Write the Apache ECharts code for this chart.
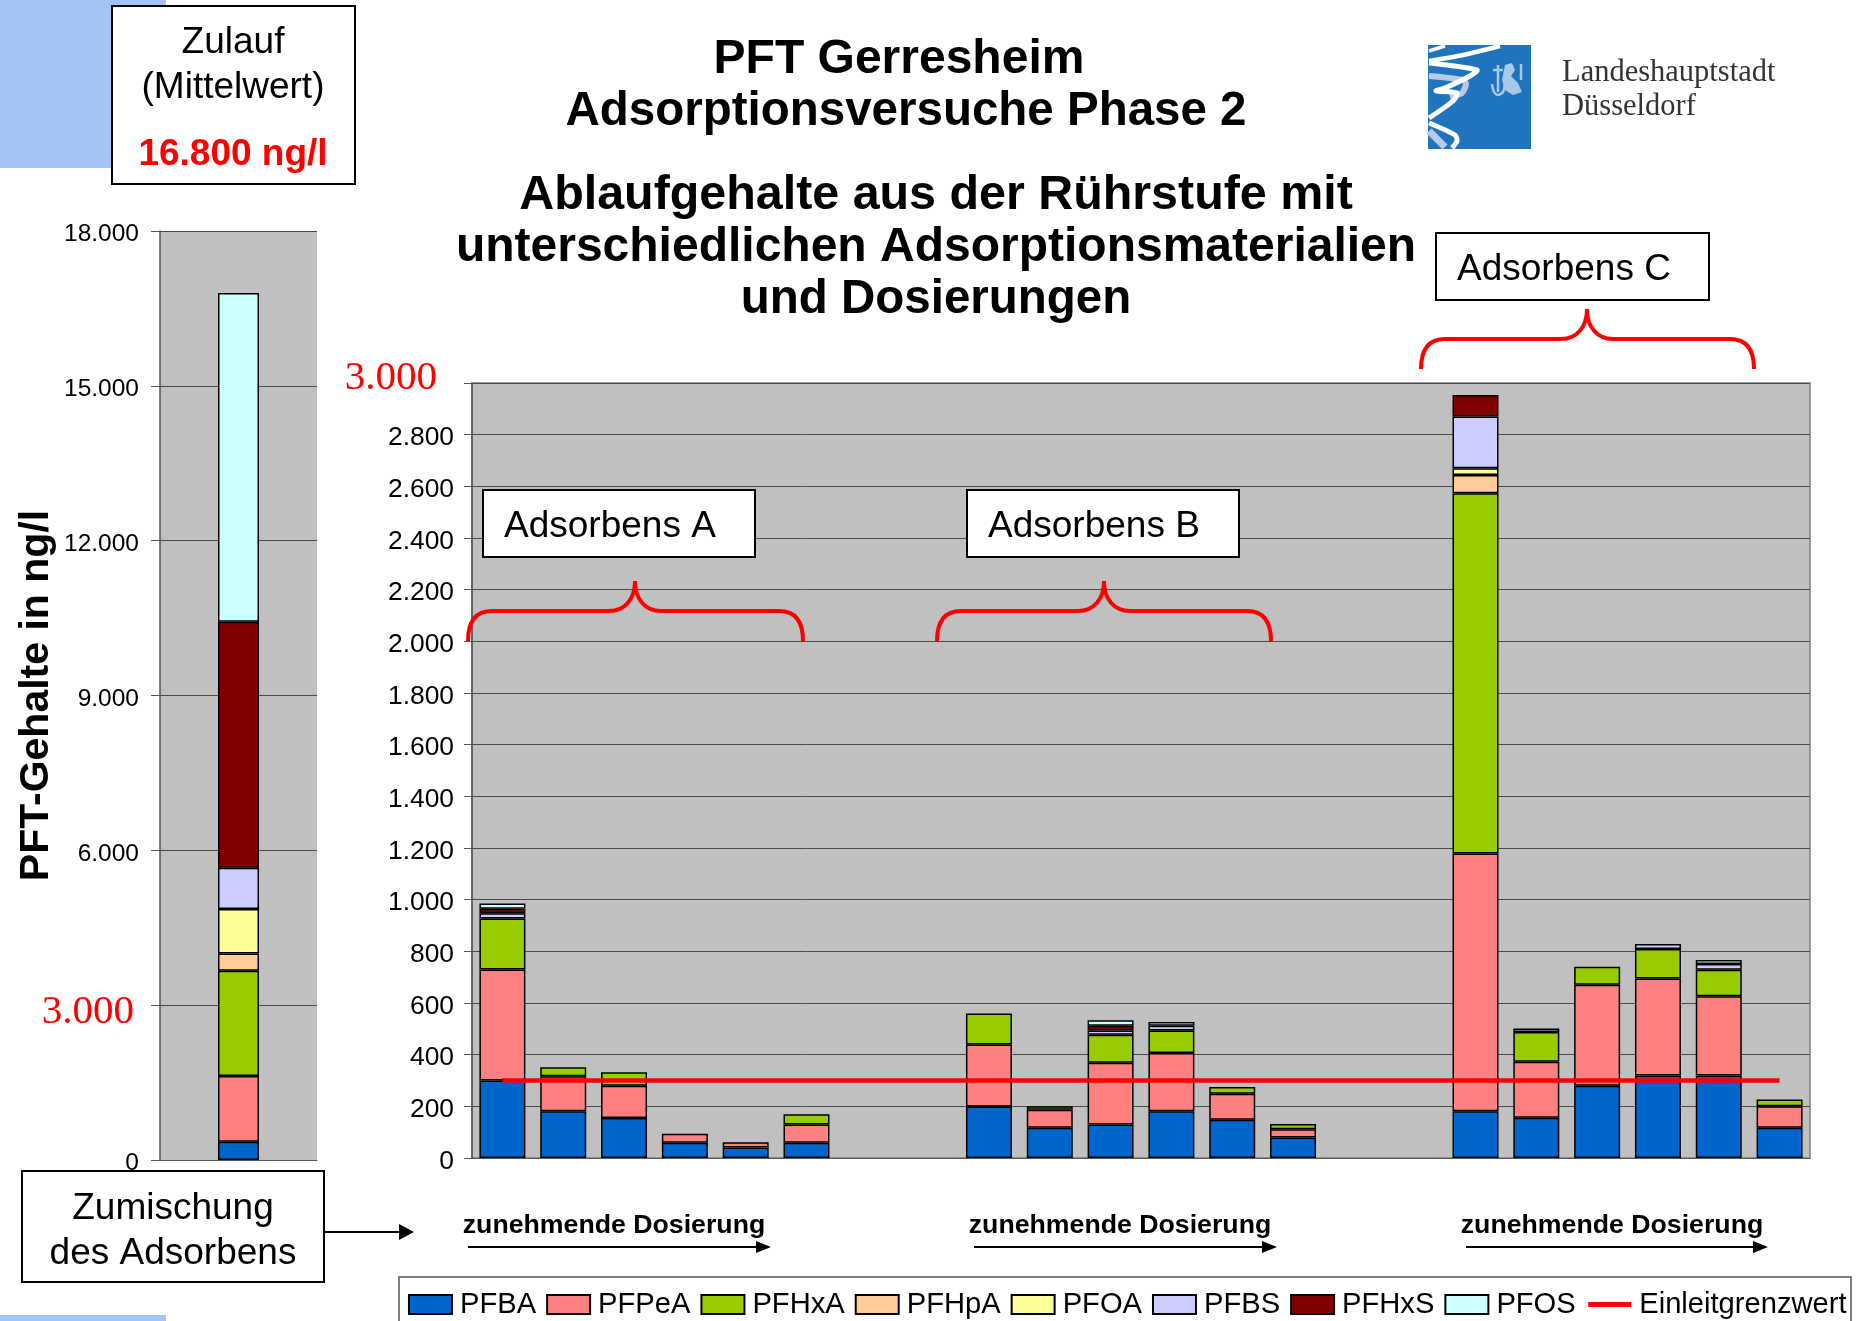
<!DOCTYPE html>
<html>
<head>
<meta charset="utf-8">
<title>PFT Gerresheim</title>
<script src="https://cdn.jsdelivr.net/npm/echarts@6/dist/echarts.min.js"></script>
<style>
  html, body { margin: 0; padding: 0; background: #fff; }
  #chart { width: 1865px; height: 1321px; }
</style>
</head>
<body>
<div id="chart"></div>
<script>
// Hauptdiagramm: 3 x 6 Versuche, getrennt durch je zwei leere Kategorien
const versuche = ['A1','A2','A3','A4','A5','A6','','','B1','B2','B3','B4','B5','B6','','','C1','C2','C3','C4','C5','C6'];
const pfba   = [300,181,155,59,41,59,null,null,199,117,130,181,148,79,null,null,181,156,280,319,319,117];
const pfpea  = [430,135,125,35,20,71,null,null,240,70,239,225,101,32,null,null,998,217,391,376,307,83];
const pfhxa  = [197,35,52,null,null,39,null,null,120,13,108,88,26,21,null,null,1394,115,69,114,103,26];
const pfhpa  = [null,null,null,null,null,null,null,null,null,null,null,null,null,null,null,null,71,null,null,null,null,null];
const pfoa   = [null,null,null,null,null,null,null,null,null,null,null,null,null,null,null,null,26,null,null,null,null,null];
const pfbs   = [20,null,null,null,null,null,null,null,null,null,17,18,null,null,null,null,200,13,null,19,22,null];
const pfhxs  = [18,null,null,null,null,null,null,null,null,null,18,null,null,null,null,null,84,null,null,null,null,null];
const pfos   = [20,null,null,null,null,null,null,null,null,null,21,14,null,null,null,null,null,null,null,null,15,null];
const grenzwert = [300,300,300,300,300,300,300,300,300,300,300,300,300,300,300,300,300,300,300,300,300,300];

// Zulauf (linkes Diagramm), gleiche Reihenfolge wie stoffe
const zulaufKat = ['', 'Zulauf', ''];
const zulauf = [355,1272,2040,336,858,801,4765,6373];

const stoffe = ['PFBA','PFPeA','PFHxA','PFHpA','PFOA','PFBS','PFHxS','PFOS'];
const farben = ['#0066cc','#ff8080','#99cc00','#ffcc99','#ffff99','#ccccff','#800000','#ccffff'];
const reihen = [pfba,pfpea,pfhxa,pfhpa,pfoa,pfbs,pfhxs,pfos];

const fmt = v => String(v).replace(/\B(?=(\d{3})+$)/g, '.');
const ARIAL = '"Liberation Sans", Arial, sans-serif';
const SERIF = '"Liberation Serif", serif';

const chart = echarts.init(document.getElementById('chart'));

const yAxisCommon = {
  type: 'value',
  min: 0,
  axisLine: { show: true, lineStyle: { color: '#555', width: 1.5 } },
  axisTick: { show: true, length: 9, lineStyle: { color: '#555' } },
  splitLine: { show: true, lineStyle: { color: '#4a4a4a', width: 1 } }
};

const series = [];
stoffe.forEach((name, i) => {
  series.push({
    name, type: 'bar', stack: 'zulauf', xAxisIndex: 0, yAxisIndex: 0, barWidth: 41,
    data: [null, zulauf[i], null],
    itemStyle: { color: farben[i], borderColor: '#000', borderWidth: 1.5 },
    silent: true
  });
  series.push({
    name, type: 'bar', stack: 'versuch', xAxisIndex: 1, yAxisIndex: 1, barWidth: 46,
    data: reihen[i],
    itemStyle: { color: farben[i], borderColor: '#000', borderWidth: 1.5 },
    silent: true
  });
});
series.push({
  name: 'Einleitgrenzwert', type: 'line', xAxisIndex: 1, yAxisIndex: 1,
  data: grenzwert, symbol: 'none', z: 5,
  lineStyle: { color: '#ff0000', width: 4.5 },
  itemStyle: { color: '#ff0000' }
});

// Text und Kaesten aus der Folie
const txt = (x, y, text, fontSize, extra) => ({
  type: 'text', x, y: y + 3, z: 20,
  style: Object.assign({ text, font: fontSize + 'px ' + ARIAL, fill: '#000', align: 'center', verticalAlign: 'middle' }, extra || {})
});
const box = (x, y, w, h, lw) => ({
  type: 'rect', z: 15, shape: { x, y, width: w, height: h },
  style: { fill: '#fff', stroke: '#000', lineWidth: lw || 2 }
});
const curve = (x1, y1, cpx1, cpy1, cpx2, cpy2, x2, y2) => ({
  type: 'bezierCurve', z: 15, shape: { x1, y1, cpx1, cpy1, cpx2, cpy2, x2, y2 },
  style: { fill: 'none', stroke: '#ff0000', lineWidth: 4 }
});
const gerade = (x1, y1, x2, y2) => ({
  type: 'line', z: 15, shape: { x1, y1, x2, y2 }, style: { stroke: '#ff0000', lineWidth: 4 }
});
const klammer = (l, r, p, y0) => {
  const f = y0 - 30, t = y0 - 60;
  return [
    curve(l, y0, l, f + 10, l + 8, f, l + 24, f),
    gerade(l + 24, f, p - 26, f),
    curve(p - 26, f, p - 10, f, p, f - 12, p, t),
    curve(p, t, p, f - 12, p + 10, f, p + 26, f),
    gerade(p + 26, f, r - 24, f),
    curve(r - 24, f, r - 8, f, r, f + 10, r, y0)
  ];
};
const pfeil = (x1, x2, y, hl, hw) => ([
  { type: 'line', z: 15, shape: { x1, y1: y, x2: x2 - hl, y2: y }, style: { stroke: '#000', lineWidth: 1.8 } },
  { type: 'polygon', z: 15, shape: { points: [[x2 - hl, y - hw], [x2, y], [x2 - hl, y + hw]] }, style: { fill: '#000' } }
]);
const titel = (x, y, text, size) => txt(x, y, text, size, { font: 'bold ' + size + 'px ' + ARIAL });
const band = (points, stroke, lineWidth) => ({
  type: 'polyline', z: 12, shape: { points, smooth: 0.25 },
  style: { fill: 'none', stroke, lineWidth }
});

const graphicEls = [
  { type: 'rect', z: 0, shape: { x: 0, y: 0, width: 166, height: 168 }, style: { fill: '#a4c2f4' } },
  { type: 'rect', z: 0, shape: { x: 0, y: 1315, width: 166, height: 6 }, style: { fill: '#a4c2f4' } },

  box(112, 6, 243, 178),
  txt(233, 40, 'Zulauf', 37),
  txt(233, 85, '(Mittelwert)', 37),
  txt(233, 152, '16.800 ng/l', 37, { font: 'bold 37px ' + ARIAL, fill: '#ff0000' }),

  titel(899, 57, 'PFT Gerresheim', 48),
  titel(906, 109, 'Adsorptionsversuche Phase 2', 47.5),
  titel(936, 193, 'Ablaufgehalte aus der Rührstufe mit', 48.4),
  titel(936, 245, 'unterschiedlichen Adsorptionsmaterialien', 48),
  titel(936, 297, 'und Dosierungen', 47.5),

  // Logo
  { type: 'rect', z: 10, shape: { x: 1428, y: 45, width: 103, height: 104 }, style: { fill: '#1f74bd' } },
  band([[1429,76],[1463,80],[1466,84],[1462,93],[1450,97]], '#b8cbe6', 6),
  band([[1429,131],[1445,147]], '#b8cbe6', 7),
  band([[1500,46],[1463,55],[1429,61]], '#fff', 4.5),
  band([[1429,51],[1445,46]], '#fff', 3.5),
  band([[1429,63],[1477,70],[1470,76],[1445,88],[1436,91],[1457,93],[1453,101],[1429,118]], '#fff', 5),
  band([[1429,123],[1455,135],[1457,141],[1452,148]], '#fff', 5),
  { type: 'polygon', z: 11, shape: { points: [[1505,65],[1512,63],[1515,70],[1511,76],[1518,83],[1522,92],[1513,95],[1505,90],[1502,80]] }, style: { fill: '#a9c9e8' } },
  band([[1498,65],[1498,92]], '#a9c9e8', 2.5),
  band([[1493,70],[1503,70]], '#a9c9e8', 2.5),
  band([[1492,84],[1494,92],[1498,95],[1503,92],[1505,84]], '#a9c9e8', 2.5),
  band([[1521,64],[1521,80]], '#a9c9e8', 2.5),
  txt(1562, 70, 'Landeshauptstadt', 30.5, { font: '30.5px ' + SERIF, fill: '#333', align: 'left' }),
  txt(1562, 104, 'Düsseldorf', 30.5, { font: '30.5px ' + SERIF, fill: '#333', align: 'left' }),

  // Adsorbens-Kaesten und Klammern
  box(483, 490, 272, 67), txt(504, 524, 'Adsorbens A', 37, { align: 'left' }),
  box(967, 490, 272, 67), txt(988, 524, 'Adsorbens B', 37, { align: 'left' }),
  box(1436, 233, 273, 67), txt(1457, 267, 'Adsorbens C', 37, { align: 'left' }),
  ...klammer(468, 803, 635, 641),
  ...klammer(937, 1271, 1104, 641),
  ...klammer(1421, 1754, 1587, 369),

  // Zumischung
  box(22, 1171, 302, 111),
  txt(173, 1206, 'Zumischung', 37),
  txt(173, 1251, 'des Adsorbens', 37),
  ...pfeil(324, 414, 1232, 15, 8),

  txt(614, 1223, 'zunehmende Dosierung', 26.7, { font: 'bold 26.7px ' + ARIAL }),
  txt(1120, 1223, 'zunehmende Dosierung', 26.7, { font: 'bold 26.7px ' + ARIAL }),
  txt(1612, 1223, 'zunehmende Dosierung', 26.7, { font: 'bold 26.7px ' + ARIAL }),
  ...pfeil(468, 771, 1247, 15, 6),
  ...pfeil(974, 1277, 1247, 15, 6),
  ...pfeil(1466, 1768, 1247, 15, 6),

  // Legendenrahmen, unten abgeschnitten
  { type: 'rect', z: 1, shape: { x: 399, y: 1277, width: 1452, height: 60 }, style: { fill: '#fff', stroke: '#555', lineWidth: 1.5 } }
];

const option = {
  animation: false,
  backgroundColor: '#fff',
  textStyle: { fontFamily: ARIAL },
  grid: [
    { left: 160, top: 231, width: 157, height: 929, show: true, backgroundColor: '#c0c0c0', borderWidth: 0, outerBoundsMode: 'none' },
    { left: 472, top: 383, width: 1338, height: 775, show: true, backgroundColor: '#c0c0c0', borderColor: '#808080', borderWidth: 1.5, outerBoundsMode: 'none' }
  ],
  xAxis: [
    {
      type: 'category', gridIndex: 0, data: zulaufKat,
      axisLine: { lineStyle: { color: '#555' } },
      axisTick: { length: 8, lineStyle: { color: '#555' } },
      axisLabel: { show: false }
    },
    {
      type: 'category', gridIndex: 1, data: versuche,
      axisLine: { lineStyle: { color: '#555' } },
      axisTick: { length: 8, interval: 0, lineStyle: { color: '#555' } },
      axisLabel: { show: false }
    }
  ],
  yAxis: [
    Object.assign({}, yAxisCommon, {
      gridIndex: 0, max: 18000, interval: 3000,
      name: 'PFT-Gehalte in ng/l', nameLocation: 'middle', nameRotate: 90, nameGap: 103, nameMoveOverlap: false,
      nameTextStyle: { color: '#000', fontSize: 41, fontWeight: 'bold', fontFamily: ARIAL },
      axisLabel: {
        color: '#000', fontSize: 24.5, margin: 21, fontFamily: ARIAL, padding: [7, 0, 0, 0],
        formatter: v => v === 3000 ? '{rot|' + fmt(v) + '}' : fmt(v),
        rich: { rot: { color: '#ff0000', fontSize: 41, fontFamily: SERIF, padding: [8, 5, 0, 0] } }
      }
    }),
    Object.assign({}, yAxisCommon, {
      gridIndex: 1, max: 3000, interval: 200,
      axisTick: { show: true, length: 8, lineStyle: { color: '#555' } },
      axisLabel: {
        color: '#000', fontSize: 26.4, margin: 18, fontFamily: ARIAL, padding: [7, 0, 0, 0],
        formatter: v => v === 3000 ? '{rot|' + fmt(v) + '}' : fmt(v),
        rich: { rot: { color: '#ff0000', fontSize: 41, fontFamily: SERIF, padding: [0, 17, 16, 0] } }
      }
    })
  ],
  legend: {
    left: 403, top: 1285, padding: 5,
    itemWidth: 43, itemHeight: 19, itemGap: 10,
    data: stoffe.map(name => ({ name, icon: 'rect' })).concat([{
      name: 'Einleitgrenzwert',
      itemStyle: { opacity: 0 },
      lineStyle: { color: '#ff0000', width: 5 }
    }]),
    textStyle: { color: '#000', fontSize: 29.15, fontFamily: ARIAL, padding: [0, 0, 0, 3] }
  },
  graphic: { elements: graphicEls },
  series
};

chart.setOption(option);
</script>
</body>
</html>
